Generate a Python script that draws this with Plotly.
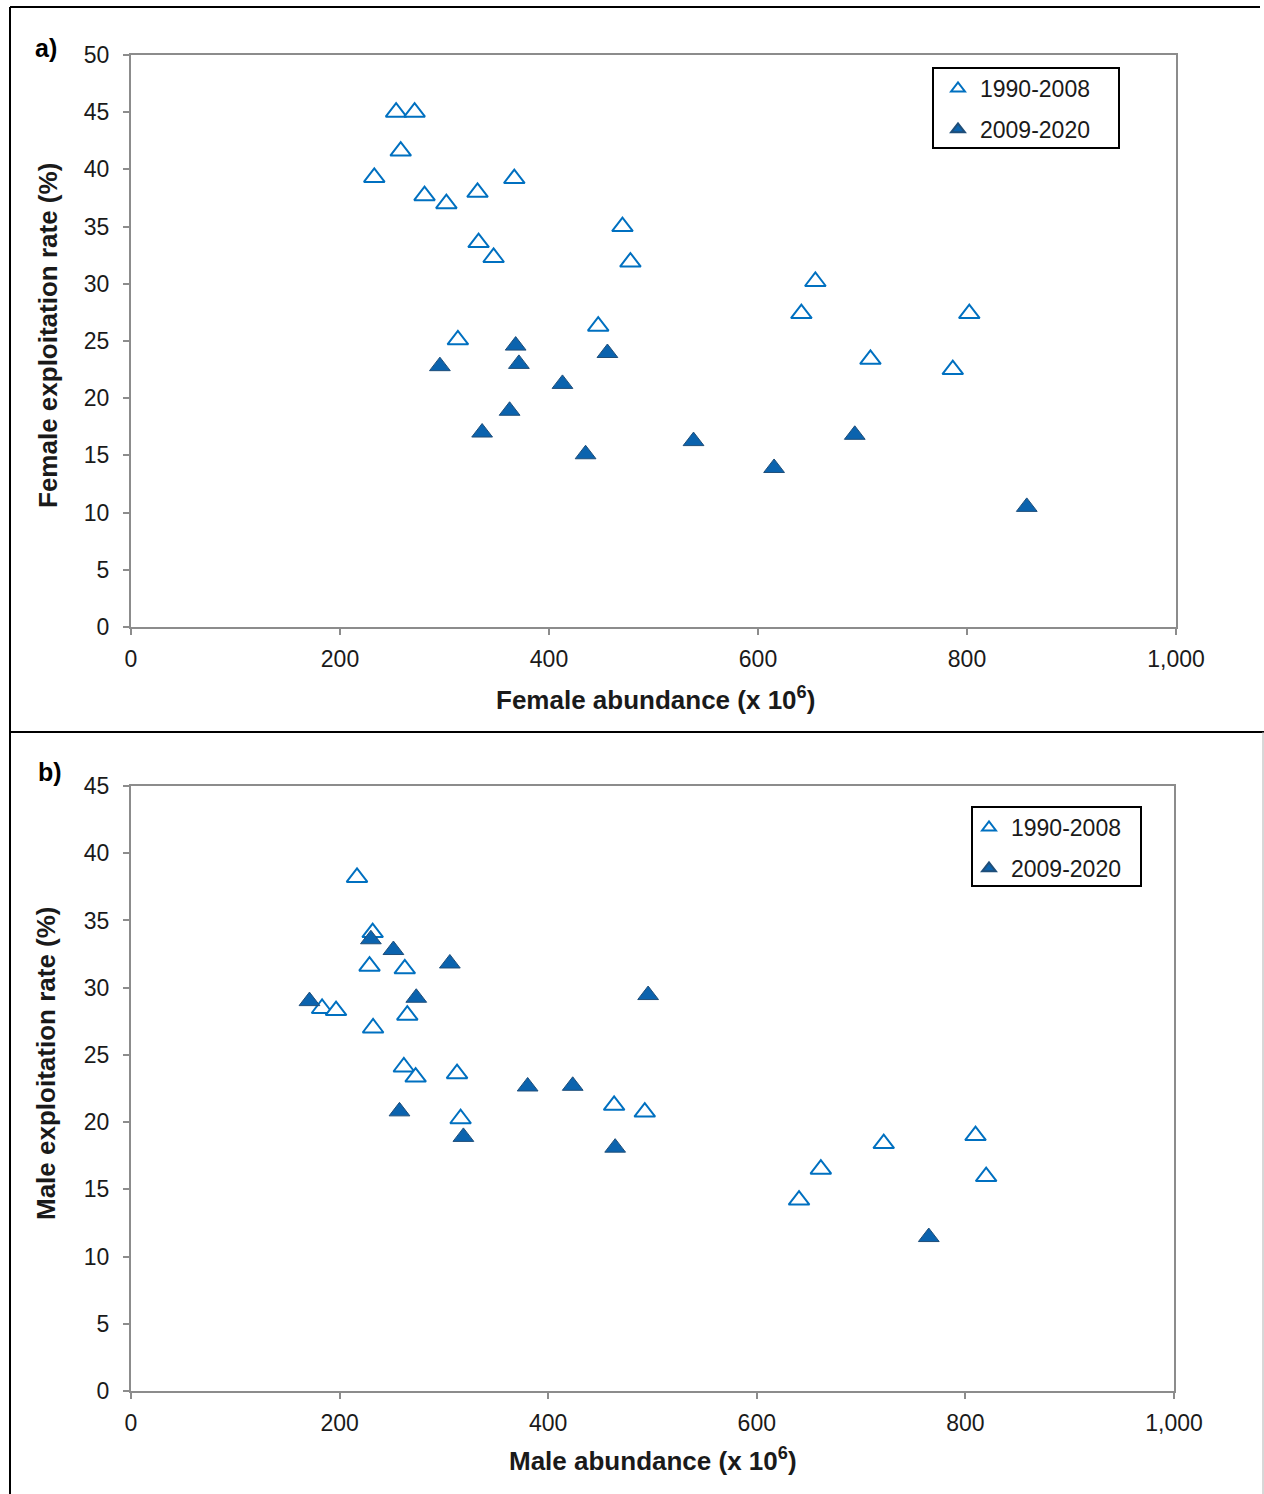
import plotly.graph_objects as go

# ---------------- data ----------------
# Panel a: female
fem_early_x = [253.7, 271.4, 258.1, 232.8, 280.9, 301.8, 331.6, 366.8, 332.6, 347.0,
               470.3, 477.9, 312.8, 447.1, 654.9, 641.5, 802.2, 707.6, 786.4]
fem_early_y = [45.0, 45.0, 41.6, 39.3, 37.7, 37.0, 38.0, 39.2, 33.6, 32.3,
               35.0, 31.9, 25.1, 26.3, 30.2, 27.4, 27.4, 23.4, 22.5]
fem_late_x = [295.6, 368.1, 371.2, 362.3, 336.0, 412.9, 435.0, 455.9, 538.3, 615.4, 692.6, 857.2]
fem_late_y = [22.8, 24.6, 23.0, 18.9, 17.0, 21.25, 15.1, 23.95, 16.25, 13.9, 16.8, 10.5]

# Panel b: male
male_early_x = [216.7, 231.7, 228.7, 262.5, 183.2, 196.6, 264.9, 232.1, 261.6, 272.9,
                312.6, 316.0, 463.2, 492.6, 640.5, 661.4, 721.7, 809.7, 819.9]
male_early_y = [38.2, 34.1, 31.6, 31.4, 28.45, 28.3, 27.95, 27.0, 24.1, 23.35,
                23.6, 20.25, 21.25, 20.75, 14.2, 16.5, 18.4, 19.0, 15.95]
male_late_x = [230.0, 251.6, 305.7, 171.1, 273.5, 257.4, 318.7, 380.3, 423.5, 495.8, 464.2, 764.9]
male_late_y = [33.6, 32.8, 31.8, 29.0, 29.25, 20.8, 18.9, 22.65, 22.7, 29.45, 18.1, 11.45]

series_names = ["1990-2008", "2009-2020"]
panel_labels = ["a)", "b)"]
x_titles = ["Female abundance (x 10<sup>6</sup>)", "Male abundance (x 10<sup>6</sup>)"]
y_titles = ["Female exploitation rate (%)", "Male exploitation rate (%)"]
y_max = [50, 45]

# ---------------- style ----------------
W, H = 1264, 1494
FONT = "Liberation Sans, Arial, sans-serif"
OPEN_COLOR = "#0070C0"
FILL_COLOR = "#0B63AE"
FILL_EDGE = "#1F4E79"
AXIS_GRAY = "#8C8C8C"
TXT = "#1a1a1a"

def px_x(p):
    return p / W

def px_y(p):
    return 1 - p / H

fig = go.Figure()

open_marker = dict(symbol="triangle-up", size=18, color="white",
                   line=dict(color=OPEN_COLOR, width=2))
fill_marker = dict(symbol="triangle-up", size=18, color=FILL_COLOR,
                   line=dict(color=FILL_EDGE, width=1))

fig.add_trace(go.Scatter(x=fem_early_x, y=fem_early_y, mode="markers", name=series_names[0],
                         marker=open_marker, xaxis="x", yaxis="y", legend="legend",
                         legendgroup="a1"))
fig.add_trace(go.Scatter(x=fem_late_x, y=fem_late_y, mode="markers", name=series_names[1],
                         marker=fill_marker, xaxis="x", yaxis="y", legend="legend",
                         legendgroup="a2"))
fig.add_trace(go.Scatter(x=male_early_x, y=male_early_y, mode="markers", name=series_names[0],
                         marker=open_marker, xaxis="x2", yaxis="y2", legend="legend2",
                         legendgroup="b1"))
fig.add_trace(go.Scatter(x=male_late_x, y=male_late_y, mode="markers", name=series_names[1],
                         marker=fill_marker, xaxis="x2", yaxis="y2", legend="legend2",
                         legendgroup="b2"))

axis_common = dict(showline=True, linecolor=AXIS_GRAY, linewidth=2, mirror=True,
                   ticks="outside", ticklen=6, tickwidth=2, tickcolor=AXIS_GRAY,
                   showgrid=False, zeroline=False, automargin=False,
                   tickfont=dict(family=FONT, size=23, color=TXT))

legend_common = dict(xanchor="left", yanchor="top",
                     bgcolor="rgba(0,0,0,0)", borderwidth=0,
                     font=dict(family=FONT, size=23, color=TXT), tracegroupgap=8,
                     itemwidth=34, itemsizing="constant")

fig.update_layout(
    width=W, height=H, autosize=False,
    margin=dict(l=0, r=0, t=0, b=0, pad=0, autoexpand=False),
    paper_bgcolor="white", plot_bgcolor="white",
    font=dict(family=FONT, color=TXT),
    xaxis=dict(domain=[px_x(131), px_x(1176)], anchor="y", range=[0, 1000], dtick=200,
               tickformat=",", ticklabelstandoff=4, **axis_common),
    yaxis=dict(domain=[px_y(627), px_y(55)], anchor="x", range=[0, y_max[0]], dtick=5,
               ticklabelstandoff=9, **axis_common),
    xaxis2=dict(domain=[px_x(131), px_x(1174)], anchor="y2", range=[0, 1000], dtick=200,
                tickformat=",", ticklabelstandoff=4, **axis_common),
    yaxis2=dict(domain=[px_y(1391), px_y(786)], anchor="x2", range=[0, y_max[1]], dtick=5,
                ticklabelstandoff=9, **axis_common),
    legend=dict(x=px_x(936), y=px_y(67), **legend_common),
    legend2=dict(x=px_x(967), y=px_y(806), **legend_common),
    showlegend=True,
)

def ann(text, xp, yp, size, angle=0, color=TXT):
    return dict(text=text, x=px_x(xp), y=px_y(yp), xref="paper", yref="paper",
                xanchor="center", yanchor="middle", showarrow=False, textangle=angle,
                font=dict(family=FONT, size=size, color=color))

annotations = [
    ann("<b>" + panel_labels[0] + "</b>", 46, 48, 25, color="black"),
    ann("<b>" + panel_labels[1] + "</b>", 50, 772, 25, color="black"),
    ann("<b>" + x_titles[0] + "</b>", 655, 698, 26),
    ann("<b>" + x_titles[1] + "</b>", 653, 1459, 26),
    ann("<b>" + y_titles[0] + "</b>", 48, 336, 26, angle=-90),
    ann("<b>" + y_titles[1] + "</b>", 46, 1063, 26, angle=-90),
]
fig.update_layout(annotations=annotations)

def hline(x0, x1, y, color="black", width=2):
    return dict(type="line", xref="paper", yref="paper", x0=px_x(x0), x1=px_x(x1),
                y0=px_y(y), y1=px_y(y), line=dict(color=color, width=width))

def vline(x, y0, y1, color="black", width=2):
    return dict(type="line", xref="paper", yref="paper", x0=px_x(x), x1=px_x(x),
                y0=px_y(y0), y1=px_y(y1), line=dict(color=color, width=width))

def box(x0, y0, x1, y1):
    return dict(type="rect", xref="paper", yref="paper", layer="below",
                x0=px_x(x0), x1=px_x(x1), y0=px_y(y1), y1=px_y(y0),
                fillcolor="white", line=dict(color="black", width=2))

shapes = [
    hline(10, 1260, 7),
    vline(10, 7, 1494),
    hline(10, 1264, 732),
    vline(1263, 732, 1494, color="#b0b0b0", width=1),
    box(933, 68, 1119, 148),   # legend frame a
    box(972, 807, 1141, 886),  # legend frame b
]
fig.update_layout(shapes=shapes)

fig.write_html("out.html", config={"displayModeBar": False},
               post_script="document.body.style.margin='0';document.body.style.overflow='hidden';")
